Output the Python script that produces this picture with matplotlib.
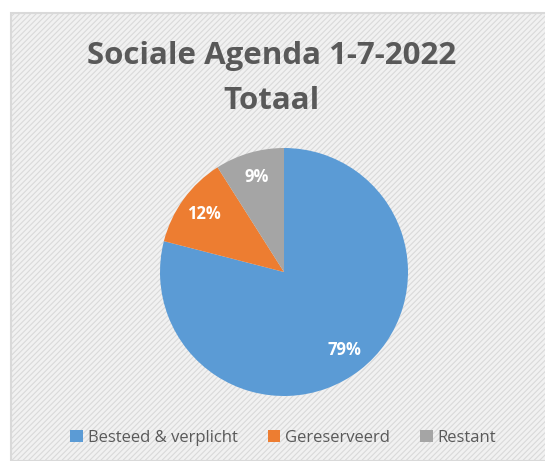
import matplotlib.pyplot as plt
from matplotlib.patches import Rectangle

labels = ['Besteed & verplicht', 'Gereserveerd', 'Restant']
values = [79, 12, 9]
colors = ['#5b9bd5', '#ed7d31', '#a5a5a5']

plt.rcParams['font.family'] = ['Open Sans', 'DejaVu Sans']
plt.rcParams['hatch.color'] = '#f9f9f9'
plt.rcParams['hatch.linewidth'] = 0.8

fig = plt.figure(figsize=(5.45, 4.61), dpi=100)
fig.patch.set_facecolor('white')

# chart area background with light diagonal stripes
bg = Rectangle((11 / 545, 0), 1, 1 - 13 / 461, transform=fig.transFigure,
               facecolor='#f1f1f1', edgecolor='#d9d9d9', hatch='//////',
               linewidth=1.5, zorder=-5)
fig.patches.append(bg)

fig.text(0.499, 1 - 56 / 461, 'Sociale Agenda 1-7-2022', ha='center', va='center',
         fontsize=22.5, fontweight='bold', color='#595959')
fig.text(0.499, 1 - 101 / 461, 'Totaal', ha='center', va='center',
         fontsize=22.5, fontweight='bold', color='#595959')

# pie centred at ~ (284, 272), radius ~124 px
r = 124
ax = fig.add_axes([(284 - r) / 545, (461 - 272 - r) / 461, 2 * r / 545, 2 * r / 461])
ax.patch.set_visible(False)
wedges, texts, autotexts = ax.pie(values, colors=colors, startangle=90, counterclock=False,
                                  autopct='%d%%', pctdistance=0.8,
                                  wedgeprops=dict(linewidth=0))
ax.set_xlim(-1, 1)
ax.set_ylim(-1, 1)
ax.set_aspect('equal')
for t in autotexts:
    t.set_color('white')
    t.set_fontweight('bold')
    t.set_fontsize(12)

fig.legend(wedges, labels, loc='center', bbox_to_anchor=(0.52, 1 - 438 / 461),
           ncol=3, frameon=False, fontsize=12, labelcolor='#595959',
           handlelength=0.75, handleheight=0.75, handletextpad=0.3, columnspacing=1.8)

fig.savefig('out.png', dpi=100)
